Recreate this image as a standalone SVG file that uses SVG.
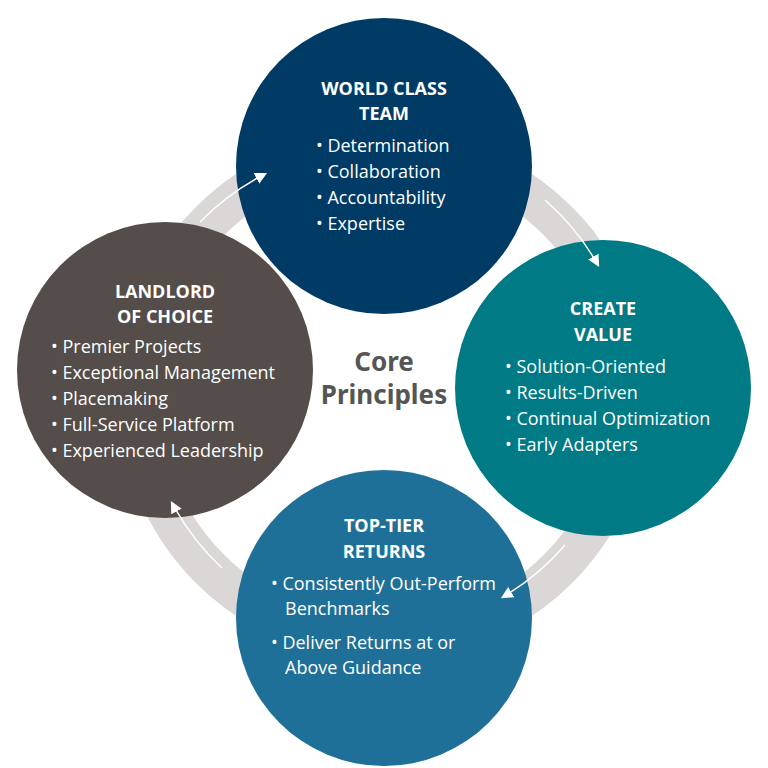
<svg xmlns="http://www.w3.org/2000/svg" width="768" height="768" viewBox="0 0 768 768">
<defs>
<marker id="ah" viewBox="0 0 10 10" refX="8" refY="5" markerWidth="12" markerHeight="12" orient="auto" markerUnits="userSpaceOnUse"><path d="M0,0 L10,5 L0,10 z" fill="#fff"/></marker>
<style>
.t{font-family:"Open Sans","Noto Sans",sans-serif;fill:#fff;font-size:18px}
.h{font-family:"Open Sans","Noto Sans",sans-serif;fill:#fff;font-size:18px;font-weight:bold;text-anchor:middle}
.c{fill:none;stroke:#fff;stroke-width:1.5;marker-end:url(#ah)}
</style>
</defs>
<rect width="768" height="768" fill="#fff"/>
<circle cx="384" cy="395" r="246" fill="none" stroke="#dcd7d7" stroke-width="40"/>
<g id="top">
<circle cx="384" cy="166" r="148" fill="#003b66"/>
<text class="h" x="384" y="95">WORLD CLASS</text>
<text class="h" x="384" y="120">TEAM</text>
<text class="t" x="316" y="152">• Determination</text>
<text class="t" x="316" y="178">• Collaboration</text>
<text class="t" x="316" y="204">• Accountability</text>
<text class="t" x="316" y="230">• Expertise</text>
</g>
<g id="right">
<circle cx="603" cy="388" r="148" fill="#007a85"/>
<text class="h" x="603" y="315">CREATE</text>
<text class="h" x="603" y="341">VALUE</text>
<text class="t" x="505" y="373">• Solution-Oriented</text>
<text class="t" x="505" y="399">• Results-Driven</text>
<text class="t" x="505" y="425">• Continual Optimization</text>
<text class="t" x="505" y="451">• Early Adapters</text>
</g>
<g id="bottom">
<circle cx="384" cy="618" r="148" fill="#1f7098"/>
<text class="h" x="384" y="532">TOP-TIER</text>
<text class="h" x="384" y="558">RETURNS</text>
<text class="t" x="271" y="590">• Consistently Out-Perform</text>
<text class="t" x="285" y="615">Benchmarks</text>
<text class="t" x="271" y="649">• Deliver Returns at or</text>
<text class="t" x="285" y="674">Above Guidance</text>
</g>
<g id="left">
<circle cx="165" cy="370" r="148" fill="#544d49"/>
<text class="h" x="165" y="298">LANDLORD</text>
<text class="h" x="165" y="323">OF CHOICE</text>
<text class="t" x="51" y="353">• Premier Projects</text>
<text class="t" x="51" y="379">• Exceptional Management</text>
<text class="t" x="51" y="405">• Placemaking</text>
<text class="t" x="51" y="431">• Full-Service Platform</text>
<text class="t" x="51" y="457">• Experienced Leadership</text>
</g>
<g id="connectors">
<path class="c" d="M200,222 A250,250 0 0 1 265,174"/>
<path class="c" d="M545,200 A250,250 0 0 1 598,265"/>
<path class="c" d="M565,545 A250,250 0 0 1 503,597"/>
<path class="c" d="M222,568 A250,250 0 0 1 172,503"/>
</g>
<g id="center">
<text x="384" y="371" text-anchor="middle" font-family="Noto Sans,sans-serif" font-weight="bold" font-size="26" fill="#555">Core</text>
<text x="384" y="404" text-anchor="middle" font-family="Noto Sans,sans-serif" font-weight="bold" font-size="26" fill="#555">Principles</text>
</g>
</svg>
